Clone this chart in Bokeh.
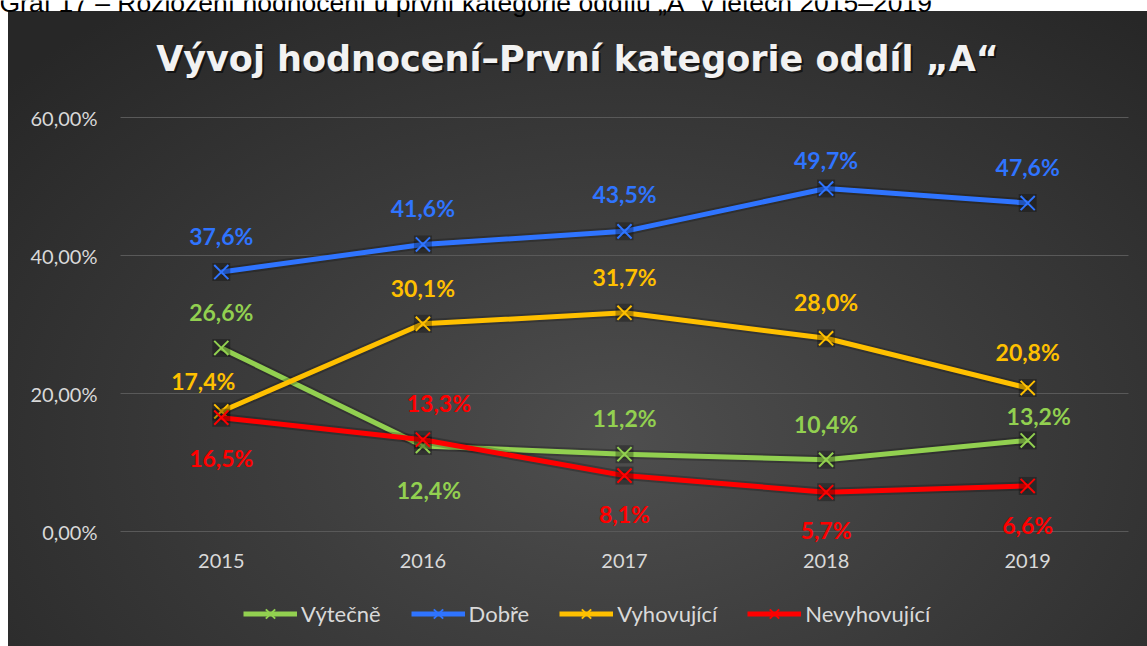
from bokeh.plotting import figure
from bokeh.models import (Range1d, FixedTicker, Legend, LegendItem,
                          Label, LabelSet, ColumnDataSource)
from bokeh.embed import file_html
from bokeh.resources import INLINE
from bokeh.core.properties import value

# ---------------- data ----------------
years = ["2015", "2016", "2017", "2018", "2019"]
vytecne = [26.6, 12.4, 11.2, 10.4, 13.2]
dobre = [37.6, 41.6, 43.5, 49.7, 47.6]
vyhovujici = [17.4, 30.1, 31.7, 28.0, 20.8]
nevyhovujici = [16.5, 13.3, 8.1, 5.7, 6.6]
series_names = ["Výtečně", "Dobře", "Vyhovující", "Nevyhovující"]
y_ticks = [0, 20, 40, 60]
y_tick_labels = ["0,00%", "20,00%", "40,00%", "60,00%"]
title_text = "Vývoj hodnocení–První kategorie oddíl „A“"
caption_text = "Graf 17 – Rozložení hodnocení u první kategorie oddílu „A“ v letech 2015–2019"

# ---------------- styles / layout ----------------
colors = ["#92D050", "#2F74FF", "#FFC000", "#FF0000"]
# data-label placement (dx, dy) in screen px, positive dy = up
label_offsets = [
    [(0, 36), (6, -44), (0, 36), (0, 36), (11, 24)],
    [(0, 36), (0, 36), (0, 37), (0, 29), (0, 36)],
    [(-18, 30), (0, 36), (0, 36), (0, 36), (0, 36)],
    [(0, -40), (16, 37), (0, -38), (0, -38), (0, -39)],
]
FONT = "Lato"
TITLE_FONT = "DejaVu Sans"
AXIS_COLOR = "#d9d9d9"
W, H = 1147, 646
PLOT_LEFT, PLOT_RIGHT = 120, 1128      # px, plot area left/right edge
ZERO_Y, PX_PER_PCT = 531, 6.9          # px row of the 0 % line, px per percent

series = [vytecne, dobre, vyhovujici, nevyhovujici]
xs = list(range(len(years)))
band = (PLOT_RIGHT - PLOT_LEFT) / len(years)

# the frame fills the whole canvas; axes are pinned inside it
p = figure(width=W, height=H,
           x_range=Range1d(-0.5 - PLOT_LEFT / band, -0.5 + (W - PLOT_LEFT) / band),
           y_range=Range1d(-(H - ZERO_Y) / PX_PER_PCT, ZERO_Y / PX_PER_PCT),
           output_backend="svg", toolbar_location=None,
           min_border=0, min_border_left=0, min_border_right=0,
           min_border_top=0, min_border_bottom=0)

p.background_fill_alpha = 0
p.border_fill_alpha = 0
p.outline_line_color = None
p.styles = {
    "background": "linear-gradient(#ffffff, #ffffff) 0 0 / 100% 11px no-repeat, "
                  "linear-gradient(#ffffff, #ffffff) 0 0 / 8px 100% no-repeat, "
                  "radial-gradient(ellipse 70% 85% at 54% 68%, #4e4e4e 0%, #3c3c3c 45%, #272727 100%)"
}

# grid lines across the plot area only
p.xgrid.visible = False
p.ygrid.visible = False
p.segment(x0=-0.5, x1=len(years) - 0.5, y0=y_ticks, y1=y_ticks,
          line_color="#595959", line_width=1)

# axes
p.xaxis.ticker = FixedTicker(ticks=xs)
p.xaxis.major_label_overrides = {i: y for i, y in zip(xs, years)}
p.xaxis.fixed_location = 0
p.yaxis.ticker = FixedTicker(ticks=y_ticks)
p.yaxis.major_label_overrides = {t: l for t, l in zip(y_ticks, y_tick_labels)}
p.yaxis.fixed_location = -0.5
for ax in (p.xaxis[0], p.yaxis[0]):
    ax.axis_line_color = None
    ax.major_tick_line_color = None
    ax.minor_tick_line_color = None
    ax.major_tick_out = 0
    ax.major_tick_in = 0
    ax.major_label_text_font = FONT
    ax.major_label_text_font_size = "20px"
    ax.major_label_text_color = AXIS_COLOR
p.yaxis.major_label_standoff = 23
p.xaxis.major_label_standoff = 22

items = []
lab_x, lab_y, lab_t, lab_dx, lab_dy, lab_c = [], [], [], [], [], []
for name, vals, col, offs in zip(series_names, series, colors, label_offsets):
    src = ColumnDataSource(dict(x=xs, y=vals))
    p.line("x", "y", source=src, line_color="black", line_alpha=0.22, line_width=9)
    ln = p.line("x", "y", source=src, line_color=col, line_width=5)
    p.scatter("x", "y", source=src, marker="square", size=18,
              fill_color="black", fill_alpha=0.28, line_color=None)
    mk = p.scatter("x", "y", source=src, marker="x", size=20,
                   line_color=col, line_width=2)
    items.append(LegendItem(label=name, renderers=[ln, mk]))
    for xi, v, (dx, dy) in zip(xs, vals, offs):
        lab_x.append(xi)
        lab_y.append(v)
        lab_t.append(f"{v:.1f}".replace(".", ",") + "%")
        lab_dx.append(dx)
        lab_dy.append(dy)
        lab_c.append(col)

lsrc = ColumnDataSource(dict(x=lab_x, y=lab_y, t=lab_t, dx=lab_dx, dy=lab_dy, c=lab_c))
labels = LabelSet(x="x", y="y", text="t", x_offset="dx", y_offset="dy", source=lsrc,
                  text_color="c", text_font=value(FONT), text_font_style="bold",
                  text_font_size="23px", text_align="center", text_baseline="middle")
p.add_layout(labels)

legend = Legend(items=items, orientation="horizontal", location=(243, 16),
                glyph_width=54, glyph_height=33, label_height=33,
                label_standoff=4, spacing=30, padding=0, margin=0,
                background_fill_alpha=0, border_line_color=None,
                label_text_font=FONT, label_text_font_size="22px",
                label_text_color=AXIS_COLOR)
p.add_layout(legend, "center")

# chart title with a soft shadow (screen units from the bottom-left corner)
TX, TY = 577, H - 58
p.add_layout(Label(x=TX + 2, y=TY - 2, x_units="screen", y_units="screen", text=title_text,
                   text_font=TITLE_FONT, text_font_style="bold", text_font_size="35px",
                   text_color="black", text_alpha=0.55, text_align="center",
                   text_baseline="middle"))
p.add_layout(Label(x=TX, y=TY, x_units="screen", y_units="screen", text=title_text,
                   text_font=TITLE_FONT, text_font_style="bold", text_font_size="35px",
                   text_color="#f2f2f2", text_align="center", text_baseline="middle"))

# document caption above the chart, cut by the top of the window
p.add_layout(Label(x=-1, y=H - 2, x_units="screen", y_units="screen", text=caption_text,
                   text_font="Liberation Sans", text_font_size="26.5px",
                   text_color="black", text_align="left", text_baseline="alphabetic"))

open("out.html", "w").write(file_html(p, INLINE))
